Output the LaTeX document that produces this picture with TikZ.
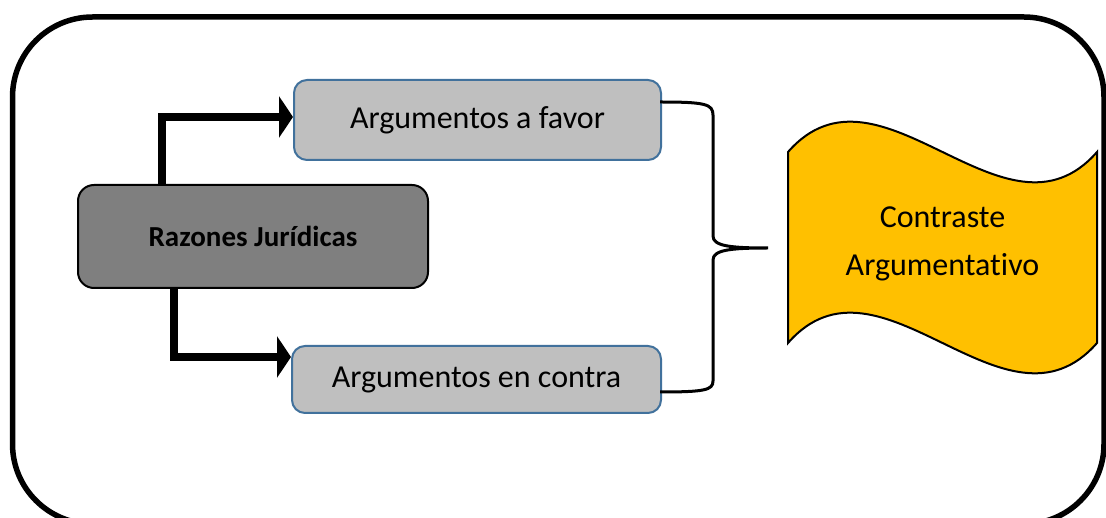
\documentclass[tikz,border=0pt]{standalone}
\usepackage{fontspec}
\setmainfont[Ligatures=NoCommon]{Carlito}
\usetikzlibrary{arrows.meta}
\definecolor{boxgray}{HTML}{BFBFBF}
\definecolor{boxblue}{HTML}{41719C}
\definecolor{darkgray}{HTML}{7F7F7F}
\definecolor{flagyellow}{HTML}{FFC000}
\tikzset{
  argbox/.style={draw=boxblue, fill=boxgray, line width=2pt, rounded corners=13pt,
    inner sep=0pt, font=\fontsize{32}{38}\selectfont},
  razbox/.style={draw=black, fill=darkgray, line width=2pt, rounded corners=16pt,
    inner sep=0pt, font=\bfseries\fontsize{29}{35}\selectfont},
  bigarrow/.style={line width=8pt, line join=miter, -{Triangle[length=14pt,width=41pt]}},
  bracestyle/.style={line width=3pt},
  frame/.style={line width=5.5pt, rounded corners=80pt},
  flag/.style={draw=black, fill=flagyellow, line width=2pt},
  flagtext/.style={align=center, font=\fontsize{32}{48}\selectfont, inner sep=0pt}
}
\begin{document}
\begin{tikzpicture}[x=1pt,y=-1pt]
\useasboundingbox (0,0) rectangle (1106,518);
\clip (0,0) rectangle (1106,518);
% outer frame
\draw[frame] (12.5,17) rectangle (1104,524);
% nodes
\node[argbox, minimum width=367pt, minimum height=80pt] (fav) at (477.5,120) {Argumentos a favor};
\node[argbox, minimum width=369pt, minimum height=67pt] (con) at (476.5,379.5) {Argumentos en contra};
\node[razbox, minimum width=350pt, minimum height=103pt] (raz) at (253,236.5) {Razones Jurídicas};
% flag shape
\draw[flag] (788,152) .. controls (880,47) and (1005,257) .. (1097,152)
  -- (1097,343) .. controls (1005,448) and (880,238) .. (788,343) -- cycle;
\node[flagtext] (ctr) at (942.5,244) {Contraste\\Argumentativo};
% arrows
\coordinate (ax1) at (162,0);
\coordinate (ax2) at (174,0);
\draw[bigarrow] (raz.north -| ax1) |- ([yshift=3pt]fav.west);
\draw[bigarrow] (raz.south -| ax2) |- ([yshift=22.5pt]con.west);
% brace
\draw[bracestyle] (660,102) .. controls (705,102) and (713,104) .. (713,115) -- (713,236)
  .. controls (713,246) and (730,248) .. (768,248)
  .. controls (730,248) and (713,250) .. (713,260) -- (713,381)
  .. controls (713,390) and (705,392) .. (660,392);
\end{tikzpicture}
\end{document}
